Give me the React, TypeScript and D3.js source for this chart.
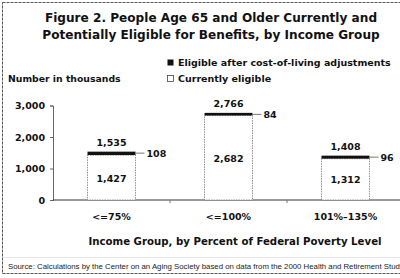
import { useEffect, useRef } from "react";
import * as d3 from "d3";

const groups = ["<=75%", "<=100%", "101%\u2013135%"];
const current = [1427, 2682, 1312];
const added = [108, 84, 96];
const totals = [1535, 2766, 1408];
const yTicks = [0, 1000, 2000, 3000];

const W = 400, H = 278;
const margin = { left: 53, right: -4, top: 105.5, bottom: 78 };
const font = "'DejaVu Sans', Arial, sans-serif";
const srcFont = "'Liberation Sans', Arial, sans-serif";

export default function App() {
  const ref = useRef<SVGSVGElement>(null);

  useEffect(() => {
    const svg = d3.select(ref.current);
    svg.selectAll("*").remove();

    // frame
    svg.append("rect")
      .attr("x", 2.5).attr("y", 2.5).attr("width", W + 10).attr("height", 271)
      .attr("fill", "white").attr("stroke", "#555").attr("stroke-width", 1)
      .attr("stroke-dasharray", "3,1");

    // title
    const title = svg.append("text")
      .attr("text-anchor", "middle")
      .attr("font-family", font).attr("font-weight", "bold").attr("font-size", 12.1)
      .attr("fill", "#111");
    title.append("tspan").attr("x", 211).attr("y", 22)
      .text("Figure 2. People Age 65 and Older Currently and");
    title.append("tspan").attr("x", 211).attr("y", 39)
      .text("Potentially Eligible for Benefits, by Income Group");

    // legend
    const lg = svg.append("g").attr("font-family", font).attr("font-weight", "bold")
      .attr("font-size", 9.5).attr("fill", "#111");
    lg.append("rect").attr("x", 167.5).attr("y", 59.5).attr("width", 6).attr("height", 6).attr("fill", "#111");
    lg.append("text").attr("x", 178).attr("y", 66).text("Eligible after cost-of-living adjustments");
    lg.append("rect").attr("x", 167.5).attr("y", 75.5).attr("width", 6).attr("height", 6)
      .attr("fill", "white").attr("stroke", "#444").attr("stroke-width", 0.8);
    lg.append("text").attr("x", 178).attr("y", 82).text("Currently eligible");
    lg.append("text").attr("x", 8).attr("y", 82).attr("font-size", 9.3).text("Number in thousands");

    const x = d3.scaleBand().domain(groups)
      .range([margin.left, W - margin.right]).paddingInner(0.59).paddingOuter(0.295);
    const y = d3.scaleLinear().domain([0, 3000]).range([H - margin.bottom, margin.top]);

    // y axis
    const ya = svg.append("g").attr("transform", `translate(${margin.left},0)`)
      .call(d3.axisLeft(y).tickValues(yTicks).tickSize(3).tickFormat(d3.format(",")));
    ya.select(".domain").attr("stroke", "#666");
    ya.selectAll(".tick line").attr("stroke", "#666");
    ya.selectAll("text").attr("font-family", font).attr("font-weight", "bold")
      .attr("font-size", 9.5).attr("fill", "#111").attr("dx", -2);

    // x axis
    const base = y(0);
    svg.append("line").attr("x1", margin.left).attr("x2", W + 5)
      .attr("y1", base).attr("y2", base).attr("stroke", "#333").attr("stroke-width", 1);
    const step = x.step();
    [1, 2].forEach(i => {
      const bx = margin.left + i * step;
      svg.append("line").attr("x1", bx).attr("x2", bx).attr("y1", base).attr("y2", base + 3)
        .attr("stroke", "#777");
    });
    svg.append("g").selectAll("text").data(groups).join("text")
      .attr("x", d => x(d)! + x.bandwidth() / 2).attr("y", 220)
      .attr("text-anchor", "middle").attr("font-family", font).attr("font-weight", "bold")
      .attr("font-size", 9.5).attr("fill", "#111").text(d => d);

    // bars
    const bars = svg.append("g").selectAll("g").data(groups).join("g");
    bars.append("rect")
      .attr("x", d => x(d)!).attr("width", x.bandwidth())
      .attr("y", (d, i) => y(current[i])).attr("height", (d, i) => base - y(current[i]))
      .attr("fill", "white").attr("stroke", "#777").attr("stroke-width", 0.8)
      .attr("stroke-dasharray", "1.5,1");
    bars.append("rect")
      .attr("x", d => x(d)!).attr("width", x.bandwidth())
      .attr("y", (d, i) => y(totals[i])).attr("height", (d, i) => y(current[i]) - y(totals[i]))
      .attr("fill", "#111");

    const lbl = (s: any) => s.attr("font-family", font).attr("font-weight", "bold")
      .attr("font-size", 9.5).attr("fill", "#111");
    bars.append("text").call(lbl)
      .attr("x", d => x(d)! + x.bandwidth() / 2).attr("y", (d, i) => y(totals[i]) - 6)
      .attr("text-anchor", "middle").text((d, i) => d3.format(",")(totals[i]));
    bars.append("text").call(lbl)
      .attr("x", d => x(d)! + x.bandwidth() / 2)
      .attr("y", (d, i) => (y(current[i]) + base) / 2 + 4)
      .attr("text-anchor", "middle").text((d, i) => d3.format(",")(current[i]));
    bars.append("line")
      .attr("x1", d => x(d)! + x.bandwidth()).attr("x2", d => x(d)! + x.bandwidth() + 9)
      .attr("y1", (d, i) => y(totals[i]) + 1.5).attr("y2", (d, i) => y(totals[i]) + 1.5)
      .attr("stroke", "#777").attr("stroke-width", 1);
    bars.append("text").call(lbl)
      .attr("x", d => x(d)! + x.bandwidth() + 11).attr("y", (d, i) => y(totals[i]) + 5)
      .text((d, i) => added[i]);

    // axis title
    svg.append("text").attr("x", 235).attr("y", 245).attr("text-anchor", "middle")
      .attr("font-family", font).attr("font-weight", "bold").attr("font-size", 10.2)
      .attr("fill", "#111").text("Income Group, by Percent of Federal Poverty Level");

    // source
    svg.append("line").attr("x1", 2.5).attr("x2", W).attr("y1", 257.5).attr("y2", 257.5)
      .attr("stroke", "#ccc").attr("stroke-width", 0.5);
    svg.append("text").attr("x", 8).attr("y", 269)
      .attr("font-family", srcFont).attr("font-size", 7.8).attr("fill", "#222")
      .text("Source: Calculations by the Center on an Aging Society based on data from the 2000 Health and Retirement Study");
  }, []);

  return (
    <svg ref={ref} width={W} height={H}
      style={{ position: "absolute", left: 0, top: 0, background: "white" }} />
  );
}
